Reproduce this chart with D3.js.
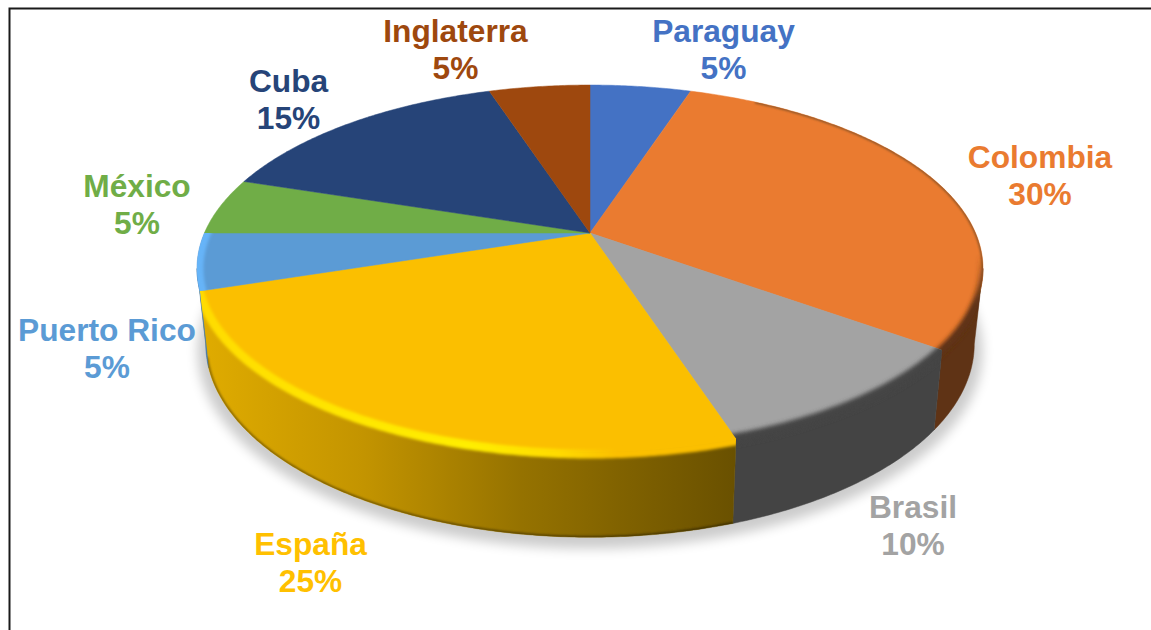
<!DOCTYPE html>
<html>
<head>
<meta charset="utf-8">
<script src="https://cdn.jsdelivr.net/npm/d3@7"></script>
<style>
  body { margin: 0; background: #fff; }
  text { font-family: "Liberation Sans", Arial, sans-serif; font-weight: bold; font-size: 31.7px; text-anchor: middle; }
</style>
</head>
<body>
<div id="chart"></div>
<script>
const countries = ["Paraguay", "Colombia", "Brasil", "España", "Puerto Rico", "México", "Cuba", "Inglaterra"];
const shares = [5, 30, 10, 25, 5, 5, 15, 5];
const faceColors = ["#4472c4", "#ea7b30", "#a3a3a3", "#fbbf00", "#5b9bd5", "#70ad47", "#264478", "#9e480e"];
const sideColors = ["#2b4a80", "#5f3315", "#444444", "url(#sideEspana)", "#3f74a8", "#4a7a2e", "#1a2f55", "#6a300a"];

// label centres, moved by hand in the original chart
const labelX = [723.5, 1040, 913, 310.5, 107, 137, 288.5, 455.5];
const labelY = [31, 157, 507, 544, 330, 186, 81, 31];

const width = 1151, height = 630;

// pie is a tilted disc seen in perspective, so the hub is not the ellipse centre
const hub = { x: 590, y: 233 };
const persp = 0.1935;
const topFace = { rx: 385.6, ry: 176.6, y: hub.y };
const bottomFace = { rx: 377, ry: 186, y: 306.6 };
const glowFace = { rx: 385.6, ry: 176.6, y: hub.y + 2 };

function project(face, a) {
    const u = Math.sin(a), v = Math.cos(a);
    const d = 1 + persp * v;
    return [hub.x + face.rx * u / d, face.y - face.ry * v / d];
}

const line = d3.line();
function arcPoints(face, a0, a1) {
    const n = Math.max(2, Math.ceil(Math.abs(a1 - a0) / 0.01));
    return d3.range(n + 1).map(i => project(face, a0 + (a1 - a0) * i / n));
}

const rad = d3.scaleLinear().domain([0, 360]).range([0, 2 * Math.PI]);
// silhouette of the wall: tangent points of the top ellipse
const wallFrom = Math.PI - Math.acos(persp);
const wallTo = 2 * Math.PI - wallFrom;

const slices = d3.pie().sort(null).value(d => d)(shares);

const svg = d3.select("#chart").append("svg")
    .attr("width", width)
    .attr("height", height)
    .style("display", "block");

const defs = svg.append("defs");

function blur(id, sd) {
    defs.append("filter")
        .attr("id", id)
        .attr("filterUnits", "userSpaceOnUse")
        .attr("x", 0).attr("y", 0).attr("width", width).attr("height", height)
        .append("feGaussianBlur").attr("stdDeviation", sd);
}
blur("blurShadow", 6);
blur("blurRim", 2);
blur("blurGlow", 1.6);
blur("blurEdge", 0.8);

function gradient(id, horizontal, from, to, stops) {
    const g = defs.append("linearGradient")
        .attr("id", id)
        .attr("gradientUnits", "userSpaceOnUse")
        .attr("x1", horizontal ? from : 0).attr("y1", horizontal ? 0 : from)
        .attr("x2", horizontal ? to : 0).attr("y2", horizontal ? 0 : to);
    stops.forEach(s => g.append("stop")
        .attr("offset", s[0])
        .attr("stop-color", s[1])
        .attr("stop-opacity", s[2] === undefined ? 1 : s[2]));
}
gradient("sideEspana", true, 205, 733, [[0, "#dfab00"], [0.3, "#c39400"], [0.6, "#957200"], [0.85, "#7a5d00"], [1, "#6a5100"]]);
gradient("glowEspana", true, 205, 733, [[0, "#ffdc00"], [0.5, "#ffee00"], [0.66, "#ffdc00"], [0.78, "#fbbf00"], [1, "#fbbf00"]]);
gradient("edgeEspana", true, 205, 733, [[0, "#8a6800"], [1, "#3c2e00"]]);
gradient("rimColombia", false, 255, 305, [[0, "#5f3315", 0], [1, "#5f3315", 1]]);

// soft shadow under the disc
svg.append("path")
    .attr("d", line(arcPoints({ rx: 385, ry: 190, y: 313 }, 0, 2 * Math.PI)) + "Z")
    .attr("fill", "#000")
    .attr("opacity", 0.2)
    .attr("filter", "url(#blurShadow)");

// walls and top faces, one clip per slice so the bevel can straddle their border
const walls = svg.append("g");
const faces = svg.append("g");
slices.forEach((d, i) => {
    const facePts = [[hub.x, hub.y]].concat(arcPoints(topFace, d.startAngle, d.endAngle));
    const clip = defs.append("clipPath").attr("id", "clipSlice" + i);
    clip.append("path").attr("d", line(facePts) + "Z");
    faces.append("path")
        .attr("d", line(facePts) + "Z")
        .attr("fill", faceColors[i])
        .attr("stroke", faceColors[i])
        .attr("stroke-width", 0.5);

    const a0 = Math.max(d.startAngle, wallFrom), a1 = Math.min(d.endAngle, wallTo);
    if (a1 <= a0) return;
    const wallPts = arcPoints(topFace, a0, a1).concat(arcPoints(bottomFace, a1, a0));
    clip.append("path").attr("d", line(wallPts) + "Z");
    walls.append("path")
        .attr("d", line(wallPts) + "Z")
        .attr("fill", sideColors[i])
        .attr("stroke", sideColors[i])
        .attr("stroke-width", 0.5);
});

// bevel along the near rim
function rim(sliceIndex, face, from, to, color, strokeWidth, filter) {
    svg.append("g").attr("clip-path", `url(#clipSlice${sliceIndex})`)
        .append("path")
        .attr("d", line(arcPoints(face, rad(from), rad(to))))
        .attr("fill", "none")
        .attr("stroke", color)
        .attr("stroke-width", strokeWidth)
        .attr("filter", filter);
}
rim(1, topFace, 30, 130, "#8a5226", 2.5, "url(#blurEdge)");
rim(1, topFace, 90, 130, "url(#rimColombia)", 9, "url(#blurRim)");
rim(2, topFace, 120, 165, "#444444", 11, "url(#blurRim)");
rim(3, glowFace, 158, 255, "url(#glowEspana)", 9, "url(#blurGlow)");
rim(3, bottomFace, 158, 255, "url(#edgeEspana)", 3, "url(#blurEdge)");
rim(4, topFace, 250, 272, "#66b4f8", 13, "url(#blurGlow)");

// labels
const labels = svg.append("g");
countries.forEach((name, i) => {
    const t = labels.append("text")
        .attr("fill", faceColors[i] === "#fbbf00" ? "#ffc000" : faceColors[i]);
    t.append("tspan").attr("x", labelX[i]).attr("y", labelY[i] + 11).text(name);
    t.append("tspan").attr("x", labelX[i]).attr("y", labelY[i] + 48).text(shares[i] + "%");
});

// frame, only top and left sides show in the crop
svg.append("path")
    .attr("d", d3.line()([[1151, 8.5], [9.5, 8.5], [9.5, 630]]))
    .attr("fill", "none")
    .attr("stroke", "#1a1a1a")
    .attr("stroke-width", 2);
</script>
</body>
</html>
